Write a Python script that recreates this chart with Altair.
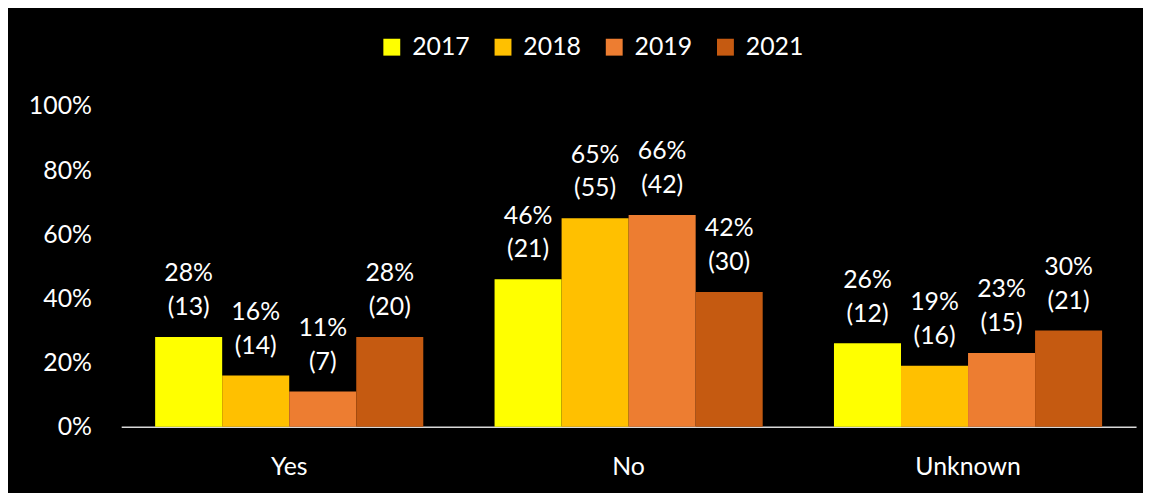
import altair as alt
import pandas as pd

categories = ["Yes", "No", "Unknown"]
years = ["2017", "2018", "2019", "2021"]
pct_yes = [28, 16, 11, 28]
cnt_yes = [13, 14, 7, 20]
pct_no = [46, 65, 66, 42]
cnt_no = [21, 55, 42, 30]
pct_unk = [26, 19, 23, 30]
cnt_unk = [12, 16, 15, 21]
colors = ["#FFFF00", "#FFC000", "#ED7D31", "#C55A11"]

rows = []
for cat, pcts, cnts in zip(categories, [pct_yes, pct_no, pct_unk], [cnt_yes, cnt_no, cnt_unk]):
    for yr, p, c in zip(years, pcts, cnts):
        rows.append({"cat": cat, "year": yr, "pct": p / 100.0, "label": f"{p}%\n({c})"})
df = pd.DataFrame(rows)

FONT = "Lato"

x = alt.X("cat:N", sort=categories, title=None,
          scale=alt.Scale(paddingInner=0.21, paddingOuter=0.1),
          axis=alt.Axis(labelAngle=0, ticks=False, labelPadding=28, labelFontSize=25,
                        labelColor="white", labelFont=FONT, domainColor="#D9D9D9",
                        domainWidth=1.5))
xo = alt.XOffset("year:N", sort=years, scale=alt.Scale(paddingInner=0, paddingOuter=0))
y = alt.Y("pct:Q", title=None,
          scale=alt.Scale(domain=[0, 1], nice=False),
          axis=alt.Axis(format=".0%", values=[0, 0.2, 0.4, 0.6, 0.8, 1.0], grid=False,
                        domain=False, ticks=False, labelPadding=30, labelFontSize=25,
                        labelColor="white", labelFont=FONT))

bars = alt.Chart(df).mark_bar(strokeWidth=0).encode(
    x=x, xOffset=xo, y=y,
    color=alt.Color("year:N", sort=years, title=None,
                    scale=alt.Scale(domain=years, range=colors),
                    legend=alt.Legend(orient="none", legendX=260, legendY=-72,
                                      direction="horizontal", symbolType="square",
                                      symbolSize=289, symbolStrokeWidth=0,
                                      labelFontSize=25, labelColor="white", labelFont=FONT,
                                      labelOffset=8, columnPadding=20, padding=0)),
)

texts = alt.Chart(df).mark_text(
    color="white", font=FONT, fontSize=25, lineBreak="\n", lineHeight=34,
    baseline="alphabetic", dy=-56, align="center"
).encode(x=x, xOffset=xo, y=y, text="label:N")

chart = alt.layer(bars, texts).properties(
    width=1022, height=323,
    autosize=alt.AutoSizeParams(type="none"),
    padding={"left": 114, "top": 97, "right": 7, "bottom": 65},
    background="black",
).configure_view(stroke=None)

chart.save("out.html", embed_options={"renderer": "svg", "actions": False})
